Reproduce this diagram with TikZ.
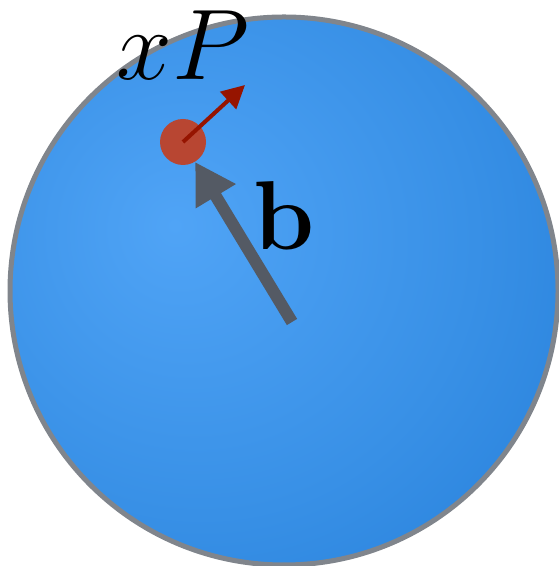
\documentclass[tikz,border=0pt]{standalone}
\usepackage{amsmath}
\usepackage{tikz}
\usetikzlibrary{
	positioning,
	arrows.meta
}
\definecolor{BallLight}{RGB}{80,164,246}
\definecolor{BallMid}{RGB}{56,144,230}
\definecolor{BallDeep}{RGB}{32,122,214}
\definecolor{BallDark}{RGB}{22,110,204}
\definecolor{RimGray}{RGB}{128,133,140}
\definecolor{DotRed}{RGB}{184,70,50}
\definecolor{DirRed}{RGB}{150,20,0}
\definecolor{VecGray}{RGB}{84,90,100}
\pgfdeclareradialshading{ballshade}{\pgfpoint{-10bp}{6bp}}{
	color(0bp)=(BallLight);
	color(25bp)=(BallMid);
	color(48bp)=(BallDeep);
	color(62bp)=(BallDark);
	color(100bp)=(BallDark)
}

\begin{document}
\begin{tikzpicture}[x=0.5pt,y=0.5pt]
				
				\useasboundingbox (0,0) rectangle (558,566);
				
				\shade[
				shading=ballshade,
				draw=RimGray,
				line width=2.5pt
				] (284,275) circle (274);
				
				\node[
				circle,
				fill=DotRed,
				minimum size=23pt,
				inner sep=0pt
				] (xp) at (183,424) {};
				
				\coordinate (dirtip) at (245,481);
				\coordinate (btail) at (292,244);
				
				\node[
				anchor=base,
				inner sep=0pt,
				scale=2.42,
				font=\huge
				] (xplabel) at (183,486) {$xP$};
				
				\node[
				anchor=base,
				inner sep=0pt,
				scale=2.36,
				font=\huge
				] (blabel) at (284,316) {$\mathbf{b}$};
				
				\draw[
				-{Triangle[length=11.5pt,width=11.5pt]},
				line width=2pt,
				DirRed
				] (xp.center) -- (dirtip);
				
				\draw[
				-{Triangle[length=20pt,width=22pt]},
				line width=6pt,
				VecGray
				] (btail) -- (xp);
				
			\end{tikzpicture}
\end{document}
